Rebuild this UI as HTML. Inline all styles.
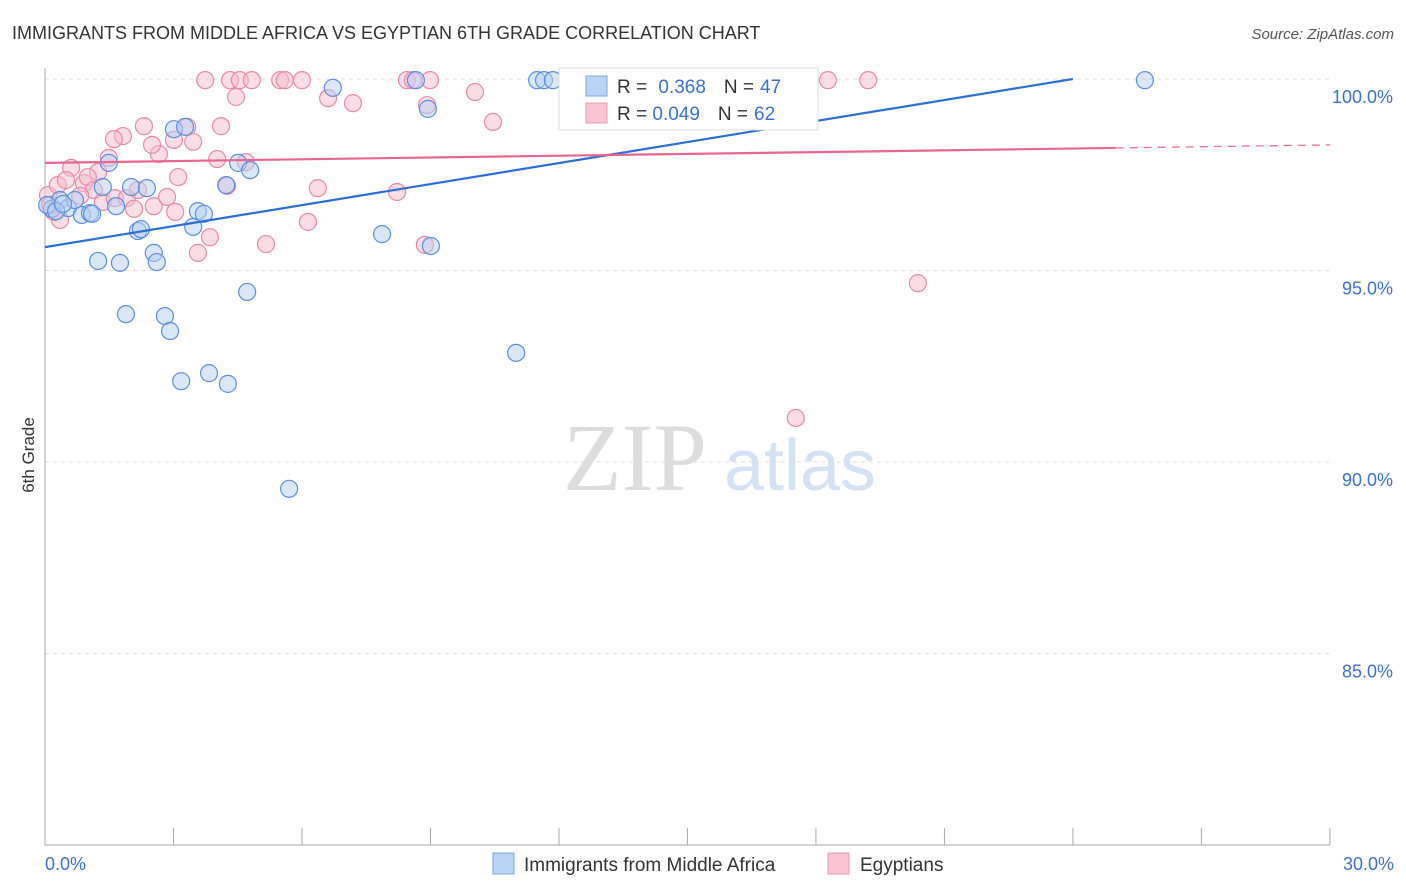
<!DOCTYPE html>
<html><head><meta charset="utf-8"><style>
body{margin:0;background:#fff;font-family:"Liberation Sans",sans-serif}
svg{display:block}
</style></head><body>
<svg id="chart" width="1406" height="892">
<text x="12" y="39" font-size="18" fill="#333">IMMIGRANTS FROM MIDDLE AFRICA VS EGYPTIAN 6TH GRADE CORRELATION CHART</text>
<text x="1394" y="39" font-size="15" fill="#555" text-anchor="end" font-style="italic">Source: ZipAtlas.com</text>
<text x="34" y="455" font-size="17" fill="#333" text-anchor="middle" transform="rotate(-90 34 455)">6th Grade</text>
<g><text x="635" y="490" font-size="96" fill="#ddd" text-anchor="middle" font-family="Liberation Serif,serif">ZIP</text><text x="800" y="490" font-size="72" fill="#d4e2f4" text-anchor="middle">atlas</text></g>
<g id="grid"></g><g id="axes"></g><g id="marks"></g><g id="lines"></g>
<g>
<rect x="559" y="68" width="259" height="62" fill="#fff" stroke="#ddd"/>
<rect x="586" y="76" width="21" height="20" fill="#b9d3f5" stroke="#7aa7e6"/>
<rect x="586" y="103" width="21" height="20" fill="#f9c4d4" stroke="#eb9ab3"/>
<text x="617" y="93" font-size="19" fill="#333">R = <tspan fill="#3a72cc" dx="6">0.368</tspan><tspan dx="18">N =</tspan><tspan fill="#3a72cc" dx="6">47</tspan></text>
<text x="617" y="120" font-size="19" fill="#333">R = <tspan fill="#3a72cc">0.049</tspan><tspan dx="18">N =</tspan><tspan fill="#3a72cc" dx="6">62</tspan></text>
</g>
<g>
<rect x="493" y="853" width="21" height="21" fill="#b9d3f5" stroke="#7aa7e6"/>
<text x="524" y="871" font-size="19" fill="#333">Immigrants from Middle Africa</text>
<rect x="828" y="853" width="21" height="21" fill="#f9c4d4" stroke="#eb9ab3"/>
<text x="860" y="871" font-size="19" fill="#333">Egyptians</text>
</g>
</svg>
<script>
const yTicks=[100,95,90,85];
const yTickLabels=["100.0%","95.0%","90.0%","85.0%"];
const xTickLabels=["0.0%","30.0%"];
const bluePx=[[52,209],[60,200],[68,208],[75,200],[82,215],[90,213],[92,214],[103,187],[109,163],[116,206],[120,263],[98,261],[126,314],[131,187],[138,231],[141,229],[147,188],[154,253],[157,262],[165,316],[170,331],[174,129],[181,381],[185,127],[193,227],[198,211],[204,214],[209,373],[226,185],[228,384],[238,163],[247,292],[250,170],[289,489],[333,88],[382,234],[416,80],[428,109],[431,246],[516,353],[537,80],[544,80],[553,80],[1145,80],[47,205],[56,211],[63,204]];
const pinkPx=[[205,80],[230,80],[240,80],[252,80],[280,80],[285,80],[302,80],[236,97],[328,98],[353,103],[407,80],[413,80],[430,80],[427,105],[475,92],[493,122],[144,126],[123,136],[114,139],[159,154],[174,140],[193,142],[187,127],[221,126],[152,145],[217,159],[246,162],[227,186],[178,177],[109,158],[98,172],[71,168],[84,183],[88,177],[94,190],[103,202],[115,198],[127,198],[134,209],[138,190],[154,206],[167,197],[175,212],[210,237],[198,253],[266,244],[308,222],[318,188],[397,192],[425,245],[620,80],[828,80],[868,80],[918,283],[796,418],[60,220],[54,212],[48,195],[50,205],[58,185],[66,180],[80,196]];
// data values (x in %, y in %)
const blueX=bluePx.map(p=>+((p[0]-45)/42.83).toFixed(2));
const blueY=bluePx.map(p=>+(100-(p[1]-79)/38.3).toFixed(2));
const pinkX=pinkPx.map(p=>+((p[0]-45)/42.83).toFixed(2));
const pinkY=pinkPx.map(p=>+(100-(p[1]-79)/38.3).toFixed(2));
const blueTrend=[95.61,100.0]; const blueTrendX=[0,24];
const pinkTrend=[97.81,98.2,98.28]; const pinkTrendX=[0,25,30];

const X=v=>45+v*42.83, Y=v=>79+(100-v)*38.3;
const NS="http://www.w3.org/2000/svg";
function mk(t,a,p){const e=document.createElementNS(NS,t);for(const k in a)e.setAttribute(k,a[k]);p.appendChild(e);return e;}
const grid=document.getElementById('grid'),axes=document.getElementById('axes'),marks=document.getElementById('marks'),lines=document.getElementById('lines');
yTicks.forEach((t,i)=>{
 const l=mk('line',{x1:45,x2:1330,y1:Y(t),y2:Y(t),stroke:'#ddd','stroke-dasharray':'4,4'},grid);
 
 
 const tx=mk('text',{x:1393,y:Y(t)+24,'font-size':18,fill:'#3a72cc','text-anchor':'end'},axes);tx.textContent=yTickLabels[i];
 
 
});
const ax=mk('line',{x1:45,x2:45,y1:68,y2:845,stroke:'#aaa'},axes);


const bx=mk('line',{x1:45,x2:1330,y1:845,y2:845,stroke:'#aaa'},axes);


for(let i=0;i<=10;i++){const t=mk('line',{x1:X(i*3),x2:X(i*3),y1:828,y2:845,stroke:'#aaa'},axes);
 
 }
[[0,'start',45],[30,'end',1394]].forEach((d,i)=>{const t=mk('text',{x:d[2],y:870,'font-size':18,fill:'#3a72cc','text-anchor':d[1]},axes);t.textContent=xTickLabels[i];
 
 });
function pts(xs,ys,fill,stroke,name){xs.forEach((x,i)=>{const c=mk('circle',{cx:X(x),cy:Y(ys[i]),r:8.5,fill,stroke,'stroke-width':1.2,'fill-opacity':0.5},marks);
 
 });}
pts(pinkX,pinkY,'#f7bccd','#e88aa7','egyptians-point');
pts(blueX,blueY,'#b5d0f3','#5b8fdc','middle-africa-point');
let l1=mk('line',{x1:X(blueTrendX[0]),y1:Y(blueTrend[0]),x2:X(blueTrendX[1]),y2:Y(blueTrend[1]),stroke:'#2b6fd6','stroke-width':2.2},lines);


let l2=mk('line',{x1:X(pinkTrendX[0]),y1:Y(pinkTrend[0]),x2:X(pinkTrendX[1]),y2:Y(pinkTrend[1]),stroke:'#e8668f','stroke-width':2.2},lines);


let l3=mk('line',{x1:X(pinkTrendX[1]),y1:Y(pinkTrend[1]),x2:X(pinkTrendX[2]),y2:Y(pinkTrend[2]),stroke:'#e8668f','stroke-width':1.2,'stroke-dasharray':'8,6'},lines);


</script>
</body></html>
